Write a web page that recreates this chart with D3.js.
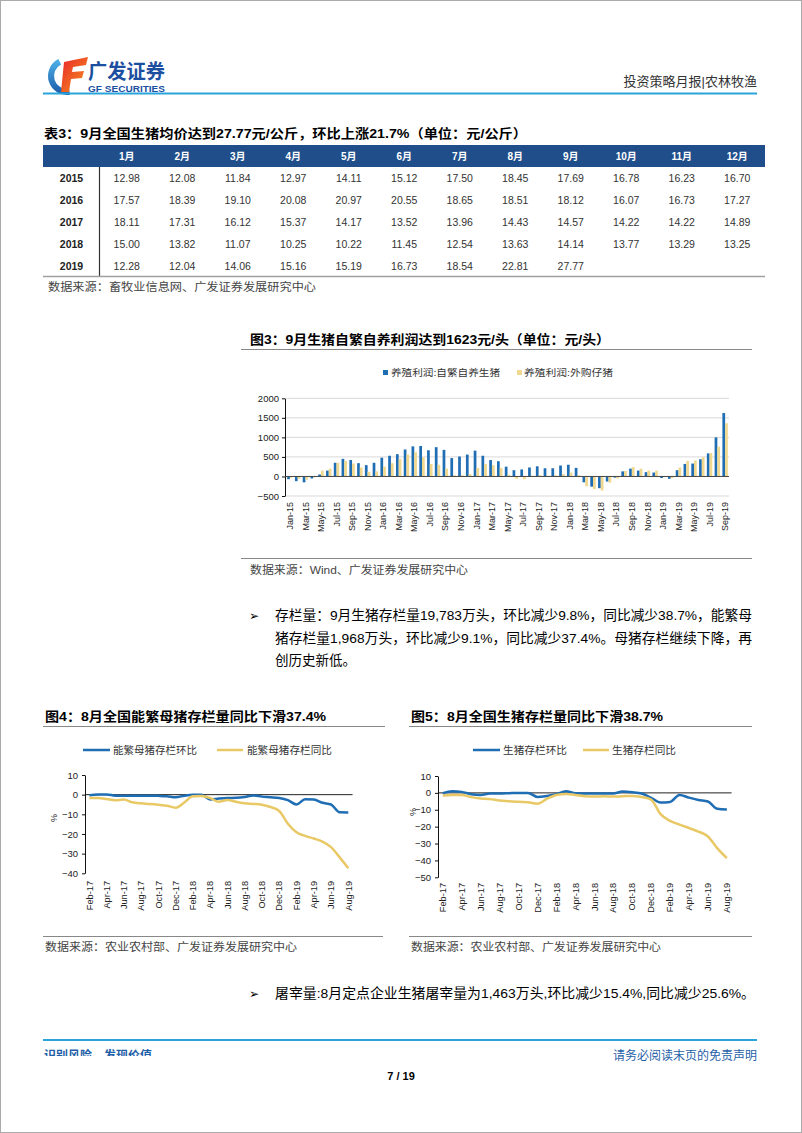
<!DOCTYPE html>
<html><head><meta charset="utf-8">
<script src="https://cdn.jsdelivr.net/npm/d3@7"></script>
<style>
body{margin:0;background:#fff;}
svg{display:block;}
text{font-family:"Liberation Sans","Noto Sans CJK SC",sans-serif;}
</style></head><body>
<svg id="page" width="802" height="1133"></svg>
<script>
// ---------------- DATA ----------------
const tableMonths = ["1月","2月","3月","4月","5月","6月","7月","8月","9月","10月","11月","12月"];
const tableYears = ["2015","2016","2017","2018","2019"];
const price2015 = ["12.98","12.08","11.84","12.97","14.11","15.12","17.50","18.45","17.69","16.78","16.23","16.70"];
const price2016 = ["17.57","18.39","19.10","20.08","20.97","20.55","18.65","18.51","18.12","16.07","16.73","17.27"];
const price2017 = ["18.11","17.31","16.12","15.37","14.17","13.52","13.96","14.43","14.57","14.22","14.22","14.89"];
const price2018 = ["15.00","13.82","11.07","10.25","10.22","11.45","12.54","13.63","14.14","13.77","13.29","13.25"];
const price2019 = ["12.28","12.04","14.06","15.16","15.19","16.73","18.54","22.81","27.77"];

const profitMonths = ["Jan-15","Feb-15","Mar-15","Apr-15","May-15","Jun-15","Jul-15","Aug-15","Sep-15","Oct-15","Nov-15","Dec-15",
"Jan-16","Feb-16","Mar-16","Apr-16","May-16","Jun-16","Jul-16","Aug-16","Sep-16","Oct-16","Nov-16","Dec-16",
"Jan-17","Feb-17","Mar-17","Apr-17","May-17","Jun-17","Jul-17","Aug-17","Sep-17","Oct-17","Nov-17","Dec-17",
"Jan-18","Feb-18","Mar-18","Apr-18","May-18","Jun-18","Jul-18","Aug-18","Sep-18","Oct-18","Nov-18","Dec-18",
"Jan-19","Feb-19","Mar-19","Apr-19","May-19","Jun-19","Jul-19","Aug-19","Sep-19"];
const profitSelf = [-70,-120,-150,-50,50,150,350,450,420,340,290,350,
480,530,570,690,770,780,670,750,680,470,510,560,
660,530,420,390,250,160,180,230,260,210,210,280,
300,220,-150,-260,-300,-130,-30,130,200,150,110,100,
-40,-60,160,320,330,440,590,1000,1623];
const profitBought = [-30,-60,-80,-20,150,200,350,400,330,230,120,130,
250,340,450,560,620,490,320,300,200,30,30,60,
220,320,290,220,40,-60,-70,20,30,20,30,60,
100,30,-250,-320,-360,-160,-50,140,240,200,150,150,
0,-40,230,400,410,490,600,760,1360];
const profitTicks = [-500,0,500,1000,1500,2000];

const stockMonths = ["Feb-17","Mar-17","Apr-17","May-17","Jun-17","Jul-17","Aug-17","Sep-17","Oct-17","Nov-17","Dec-17",
"Jan-18","Feb-18","Mar-18","Apr-18","May-18","Jun-18","Jul-18","Aug-18","Sep-18","Oct-18","Nov-18","Dec-18",
"Jan-19","Feb-19","Mar-19","Apr-19","May-19","Jun-19","Jul-19","Aug-19"];
const sowMoM = [-0.3,0.1,0.1,-0.5,-0.6,-0.6,-0.6,-0.5,-0.6,-0.8,-1.3,
-0.5,0.0,0.0,-2.4,-2.0,-1.7,-1.6,-1.2,-0.4,-1.0,-1.3,-1.7,
-2.8,-5.0,-2.3,-2.5,-4.1,-5.0,-9.0,-9.1];
const sowYoY = [-1.7,-1.7,-2.2,-2.9,-2.5,-3.9,-4.4,-4.7,-5.1,-5.6,-6.6,
-4.0,-0.8,-0.7,-1.7,-3.6,-2.7,-3.6,-4.4,-4.7,-5.1,-6.3,-8.3,
-14.8,-19.1,-21.0,-22.3,-23.9,-26.7,-31.9,-37.4];
const sowTicks = [-40,-30,-20,-10,0,10];
const hogMoM = [-0.2,1.0,0.6,-0.8,-1.2,-0.4,-0.4,-0.2,0.0,0.0,-2.4,
-1.8,-0.8,1.0,-0.2,-0.4,-0.4,-0.4,-0.4,0.8,0.4,-0.4,-2.9,
-5.7,-5.4,-1.2,-2.8,-4.2,-5.1,-9.4,-9.8];
const hogYoY = [-1.6,-1.2,-1.2,-2.5,-3.3,-3.7,-4.5,-4.9,-5.3,-5.5,-6.4,
-3.5,-1.3,-0.6,-1.2,-2.0,-2.2,-2.0,-2.2,-2.0,-1.8,-2.4,-4.0,
-12.6,-16.6,-18.8,-20.8,-22.9,-25.8,-32.9,-38.7];
const hogTicks = [-50,-40,-30,-20,-10,0,10];

// ---------------- STYLE ----------------
const BLUE = "#1f6db3", GOLD = "#e9c866", BARGOLD = "#f0d88f", HEADBLUE = "#1f4e8a", LINEBLUE = "#2ba4dc", FOOTBLUE = "#1f5fa8";
const svg = d3.select("#page");

svg.append("rect").attr("x",0.5).attr("y",0.5).attr("width",801).attr("height",1132).attr("fill","#fff").attr("stroke","#aaa");

function txt(g, s, x, y, o) {
  o = o || {};
  const t = g.append("text").attr("x",x).attr("y",y).text(s)
    .attr("font-size", o.size || 12).attr("fill", o.fill || "#000");
  if (o.bold) t.attr("font-weight","bold");
  if (o.anchor) t.attr("text-anchor", o.anchor);
  if (o.len) t.attr("textLength", o.len).attr("lengthAdjust","spacingAndGlyphs");
  if (o.family) t.attr("font-family", o.family);
  return t;
}
function hline(x1,x2,y,color,w){ svg.append("line").attr("x1",x1).attr("x2",x2).attr("y1",y).attr("y2",y).attr("stroke",color).attr("stroke-width",w); }

// ---------------- HEADER ----------------
const defs = svg.append("defs");
const gr = defs.append("linearGradient").attr("id","fgrad").attr("x1","0").attr("y1","0").attr("x2","1").attr("y2","1");
gr.append("stop").attr("offset","0").attr("stop-color","#e8262a");
gr.append("stop").attr("offset","1").attr("stop-color","#f7941d");
const gb = defs.append("linearGradient").attr("id","bgrad").attr("x1","0").attr("y1","0").attr("x2","0").attr("y2","1");
gb.append("stop").attr("offset","0").attr("stop-color","#4fb3e8");
gb.append("stop").attr("offset","1").attr("stop-color","#1a5aa8");
svg.append("path").attr("transform","translate(67,76)")
  .attr("d", d3.arc().innerRadius(13).outerRadius(19).startAngle(Math.PI*0.95).endAngle(Math.PI*1.85)())
  .attr("fill","url(#bgrad)");
svg.append("path").attr("d","M64,62 L88,57 L86,65 L73,67 L72,72 L84,71 L82,78 L71,79 L69,92 L61,92 Z").attr("fill","url(#fgrad)");
txt(svg,"广发证券",88,79,{size:20,bold:true,fill:"#1c4f9f",len:77});
txt(svg,"GF SECURITIES",88,92,{size:9,bold:true,fill:"#1c4f9f",len:77});
txt(svg,"投资策略月报|农林牧渔",757,86,{size:13,fill:"#333",anchor:"end"});
hline(43,757,93.5,LINEBLUE,2);

// ---------------- TABLE ----------------
txt(svg,"表3：9月全国生猪均价达到27.77元/公斤，环比上涨21.7%（单位：元/公斤）",44,138,{size:13,bold:true,len:483});
const tx = d3.scaleBand().domain(tableMonths).range([99,765]);
const ty = d3.scaleBand().domain(tableYears).range([167,276.5]);
svg.append("rect").attr("x",43).attr("y",145).attr("width",722).attr("height",22).attr("fill",HEADBLUE);
tableMonths.forEach(m => txt(svg,m,tx(m)+tx.bandwidth()/2,160,{size:10,bold:true,fill:"#fff",anchor:"middle"}));
const tableRows = [price2015,price2016,price2017,price2018,price2019];
tableYears.forEach((yr,i) => {
  const cy = ty(yr)+ty.bandwidth()/2+4;
  txt(svg,yr,71.5,cy,{size:10.5,bold:true,fill:"#222",anchor:"middle"});
  tableRows[i].forEach((v,j) => txt(svg,v,tx(tableMonths[j])+tx.bandwidth()/2,cy,{size:10.5,fill:"#333",anchor:"middle"}));
});
svg.append("line").attr("x1",99.5).attr("x2",99.5).attr("y1",167).attr("y2",276.5).attr("stroke","#333").attr("stroke-width",1.2);
hline(43,765,276.5,"#a0a0a0",1.5);
txt(svg,"数据来源：畜牧业信息网、广发证券发展研究中心",48,291,{size:11,fill:"#444",len:268});

// ---------------- CHART 3 ----------------
txt(svg,"图3：9月生猪自繁自养利润达到1623元/头（单位：元/头）",250,344,{size:13,bold:true,len:360});
hline(241,752,349.5,"#888",1);
svg.append("rect").attr("x",383).attr("y",370).attr("width",5).attr("height",5).attr("fill",BLUE);
txt(svg,"养殖利润:自繁自养生猪",391,376,{size:9.5,fill:"#333",len:109});
svg.append("rect").attr("x",517).attr("y",370).attr("width",5).attr("height",5).attr("fill",BARGOLD);
txt(svg,"养殖利润:外购仔猪",524,376,{size:9.5,fill:"#333",len:89});

const x3 = d3.scaleBand().domain(profitMonths).range([286,729]).paddingInner(0.3).paddingOuter(0.15);
const y3 = d3.scaleLinear().domain([-500,2000]).range([496,398.3]);
const g3 = svg.append("g");
g3.selectAll(".grid").data(profitTicks.filter(d=>d!==0)).join("line")
  .attr("x1",285).attr("x2",729).attr("y1",d=>y3(d)).attr("y2",d=>y3(d)).attr("stroke","#d9d9d9");
const bw = x3.bandwidth()/2;
g3.selectAll(".b1").data(profitMonths).join("rect")
  .attr("x",d=>x3(d)).attr("width",bw)
  .attr("y",(d,i)=>y3(Math.max(0,profitSelf[i]))).attr("height",(d,i)=>Math.abs(y3(profitSelf[i])-y3(0)))
  .attr("fill",BLUE);
g3.selectAll(".b2").data(profitMonths).join("rect")
  .attr("x",d=>x3(d)+bw).attr("width",bw)
  .attr("y",(d,i)=>y3(Math.max(0,profitBought[i]))).attr("height",(d,i)=>Math.abs(y3(profitBought[i])-y3(0)))
  .attr("fill",BARGOLD);
hline(285,729,y3(0),"#444",1);
const ya3 = g3.append("g").attr("transform","translate(285,0)")
  .call(d3.axisLeft(y3).tickValues(profitTicks).tickSize(3).tickSizeOuter(0).tickFormat(d3.format("d")));
ya3.selectAll("text").attr("font-size",9.5).attr("fill","#222");
ya3.selectAll("path,line").attr("stroke","#111");
const xa3 = g3.append("g").attr("transform","translate(0,502)")
  .call(d3.axisBottom(x3).tickValues(profitMonths.filter((d,i)=>i%2===0)).tickSize(0));
xa3.select(".domain").remove();
xa3.selectAll("text").attr("font-size",9).attr("fill","#222").attr("x",0).attr("y",0).attr("dy","0.35em")
  .attr("transform","rotate(-90)").attr("text-anchor","end");
hline(241,752,558.5,"#888",1);
txt(svg,"数据来源：Wind、广发证券发展研究中心",250,574,{size:11,fill:"#444",len:218});

// ---------------- BULLET 1 ----------------
txt(svg,"➢",249,620,{size:12,family:"DejaVu Sans"});
txt(svg,"存栏量：9月生猪存栏量19,783万头，环比减少9.8%，同比减少38.7%，能繁母",275,620,{size:13.5,len:477});
txt(svg,"猪存栏量1,968万头，环比减少9.1%，同比减少37.4%。母猪存栏继续下降，再",275,643,{size:13.5,len:477});
txt(svg,"创历史新低。",275,665,{size:13.5});

// ---------------- LINE CHART HELPER ----------------
function lineChart(o) {
  const g = svg.append("g");
  txt(g,o.title,o.tx,721,{size:13,bold:true,len:o.tlen});
  hline(o.lx1,o.lx2,726.5,"#888",1);
  // legend
  g.append("line").attr("x1",o.leg[0]).attr("x2",o.leg[1]).attr("y1",750).attr("y2",750).attr("stroke",BLUE).attr("stroke-width",2.5);
  txt(g,o.names[0],o.leg[2],754,{size:10,fill:"#333",len:o.leg[3]});
  g.append("line").attr("x1",o.leg[4]).attr("x2",o.leg[5]).attr("y1",750).attr("y2",750).attr("stroke",GOLD).attr("stroke-width",2.5);
  txt(g,o.names[1],o.leg[6],754,{size:10,fill:"#333",len:o.leg[7]});
  const x = d3.scaleBand().domain(stockMonths).range(o.xr);
  const y = d3.scaleLinear().domain(o.yd).range(o.yr);
  const cx = d => x(d)+x.bandwidth()/2;
  // zero axis
  g.append("line").attr("x1",o.xr[0]).attr("x2",o.xr[1]).attr("y1",y(0)).attr("y2",y(0)).attr("stroke","#222").attr("stroke-width",1);
  const ya = g.append("g").attr("transform",`translate(${o.xr[0]},0)`)
    .call(d3.axisLeft(y).tickValues(o.ticks).tickSize(3).tickSizeOuter(0).tickPadding(4));
  ya.selectAll("text").attr("font-size",9.5).attr("fill","#222");
  ya.selectAll("path,line").attr("stroke","#111");
  const line = d3.line().x((d,i)=>cx(stockMonths[i])).y(d=>y(d)).curve(d3.curveMonotoneX);
  g.append("path").attr("d",line(o.s1)).attr("fill","none").attr("stroke",BLUE).attr("stroke-width",2.5);
  g.append("path").attr("d",line(o.s2)).attr("fill","none").attr("stroke",GOLD).attr("stroke-width",2.5);
  const xa = g.append("g").attr("transform",`translate(0,${o.xl})`)
    .call(d3.axisBottom(x).tickValues(stockMonths.filter((d,i)=>i%2===0)).tickSize(0));
  xa.select(".domain").remove();
  xa.selectAll("text").attr("font-size",9.2).attr("fill","#222").attr("x",0).attr("y",0).attr("dy","0.35em")
    .attr("transform","rotate(-90)").attr("text-anchor","end");
  g.append("text").attr("transform",`translate(${o.pct[0]},${o.pct[1]}) rotate(-90)`).attr("text-anchor","middle")
    .attr("font-size",9).attr("fill","#222").text("%");
  hline(o.lx1,o.sx2,936.5,"#888",1);
  txt(g,"数据来源：农业农村部、广发证券发展研究中心",o.tx,951,{size:11,fill:"#444",len:o.slen});
}

lineChart({title:"图4：8月全国能繁母猪存栏量同比下滑37.4%",tx:45,tlen:281,lx1:43,lx2:385,sx2:383,
  leg:[83,110,113,84,217,243,247,85],names:["能繁母猪存栏环比","能繁母猪存栏同比"],
  xr:[85,352.6],yd:[-40,10],yr:[873.3,775],ticks:sowTicks,s1:sowMoM,s2:sowYoY,xl:881,pct:[57,818],slen:252});
lineChart({title:"图5：8月全国生猪存栏量同比下滑38.7%",tx:411,tlen:252,lx1:409,lx2:752,sx2:752,
  leg:[473,500,503,64,583,609,612,64],names:["生猪存栏环比","生猪存栏同比"],
  xr:[438,731.6],yd:[-50,10],yr:[877.3,776],ticks:hogTicks,s1:hogMoM,s2:hogYoY,xl:883,pct:[416,812],slen:250});

// ---------------- BULLET 2 ----------------
txt(svg,"➢",249,998,{size:12,family:"DejaVu Sans"});
txt(svg,"屠宰量:8月定点企业生猪屠宰量为1,463万头,环比减少15.4%,同比减少25.6%。",275,998,{size:13.5,len:480});

// ---------------- FOOTER ----------------
hline(43,757,1040,LINEBLUE,2);
defs.append("clipPath").attr("id","fclip").append("rect").attr("x",0).attr("y",1040).attr("width",300).attr("height",16);
txt(svg,"识别风险，发现价值",44,1060,{size:12,bold:true,fill:FOOTBLUE}).attr("clip-path","url(#fclip)");
txt(svg,"请务必阅读末页的免责声明",757,1060,{size:12,fill:FOOTBLUE,anchor:"end"});
txt(svg,"7 / 19",401,1080,{size:11,bold:true,anchor:"middle"});
</script>
</body></html>
